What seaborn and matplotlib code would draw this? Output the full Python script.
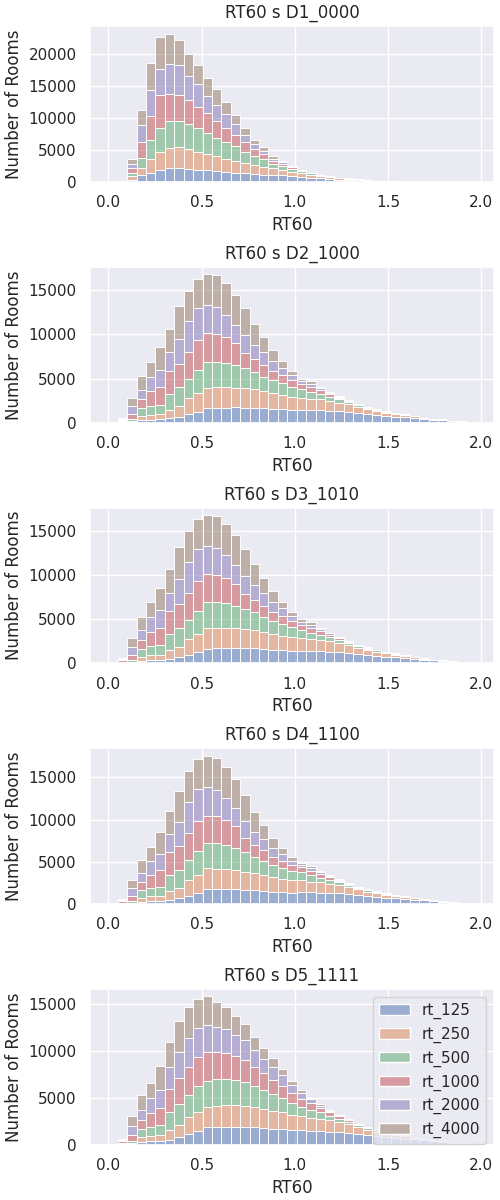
import numpy as np
import pandas as pd
import seaborn as sns
import matplotlib

matplotlib.use("Agg")
import matplotlib.pyplot as plt

sns.set_theme()

# DATA (counts per RT60 bin)

n_bins = 39
rt_range = (0, 1.97)
bin_edges = np.linspace(rt_range[0], rt_range[1], n_bins + 1)
bin_centers = (bin_edges[:-1] + bin_edges[1:]) / 2

bands = ["rt_125", "rt_250", "rt_500", "rt_1000", "rt_2000", "rt_4000"]
titles = ["RT60 s D1_0000", "RT60 s D2_1000", "RT60 s D3_1010", "RT60 s D4_1100", "RT60 s D5_1111"]

# D1_0000
d1_125 = [0, 0, 400, 1040, 1400, 1920, 2230, 2230, 2080, 1970, 1870, 1710, 1610, 1450, 1350, 1300, 1190, 1090, 1040, 950,
          800, 700, 600, 480, 400, 340, 260, 200, 150, 115, 85, 62, 45, 33, 24, 18, 11, 7, 4]
d1_250 = [0, 0, 500, 1140, 2230, 2850, 3120, 3220, 3010, 2750, 2540, 2340, 2070, 1820, 1660, 1450, 1140, 1040, 830, 650,
          550, 420, 330, 270, 200, 175, 135, 100, 72, 55, 42, 30, 20, 14, 9, 6, 4, 3, 1]
d1_500 = [0, 0, 600, 1560, 3010, 3690, 4250, 4050, 3890, 3740, 3270, 2850, 2600, 2330, 1660, 1300, 1200, 720, 570, 450,
          330, 230, 160, 120, 85, 65, 45, 32, 24, 17, 11, 7, 5, 3, 2, 1, 0, 0, 0]
d1_1000 = [0, 0, 650, 2490, 3640, 5190, 4150, 4100, 3740, 3220, 3120, 2600, 2180, 1820, 1610, 1190, 780, 420, 410, 250,
           150, 90, 60, 40, 25, 15, 8, 6, 4, 3, 2, 1, 0, 0, 0, 0, 0, 0, 0]
d1_2000 = [0, 0, 700, 2700, 4100, 4000, 4680, 4600, 3790, 3630, 2590, 2590, 2230, 1710, 1140, 730, 620, 410, 260, 150,
           70, 40, 25, 15, 7, 4, 2, 2, 0, 0, 0, 0, 0, 0, 0, 0, 0, 0, 0]
d1_4000 = [0, 0, 750, 2330, 4200, 5030, 4670, 4010, 3370, 2880, 2880, 2340, 1820, 1300, 1040, 670, 520, 350, 170, 90,
           40, 20, 15, 5, 3, 1, 0, 0, 0, 0, 0, 0, 0, 0, 0, 0, 0, 0, 0]

# D2_1000
d2_125 = [0, 30, 75, 300, 340, 400, 500, 700, 950, 1250, 1630, 1710, 1710, 1740, 1710, 1710, 1630, 1550, 1520, 1440,
          1450, 1420, 1400, 1350, 1300, 1240, 1100, 960, 860, 780, 700, 650, 560, 450, 350, 300, 185, 120, 90]
d2_250 = [0, 60, 110, 490, 570, 610, 1000, 1200, 1820, 2090, 2350, 2350, 2350, 2240, 2190, 2080, 1970, 1790, 1630, 1520,
          1400, 1330, 1250, 1150, 1000, 860, 700, 560, 490, 370, 280, 230, 160, 110, 75, 60, 35, 22, 15]
d2_500 = [0, 100, 230, 910, 1000, 1020, 1800, 2100, 2190, 2650, 2960, 2880, 2760, 2580, 2280, 2010, 1630, 1510, 1320, 1130,
          950, 750, 600, 450, 350, 250, 180, 160, 130, 120, 90, 60, 45, 25, 17, 15, 8, 6, 4]
d2_1000 = [0, 150, 570, 950, 1650, 1970, 2600, 2700, 3040, 3410, 3220, 3100, 2840, 2460, 1700, 1440, 1330, 1020, 950, 760,
           600, 550, 450, 300, 200, 130, 80, 70, 60, 50, 40, 25, 15, 10, 6, 4, 2, 2, 1]
d2_2000 = [0, 120, 910, 1100, 1650, 2010, 2100, 2800, 3480, 3600, 3140, 3040, 2580, 2080, 2010, 1590, 1440, 1140, 830, 570,
           350, 350, 200, 150, 100, 50, 30, 30, 30, 20, 15, 10, 8, 3, 2, 1, 0, 0, 0]
d2_4000 = [0, 110, 950, 1560, 1690, 2540, 2650, 3690, 3490, 3330, 3490, 3600, 3530, 3420, 3110, 2390, 1660, 1250, 760, 450,
           250, 290, 160, 100, 60, 30, 20, 20, 10, 10, 5, 5, 2, 2, 0, 0, 0, 0, 0]

# D3_1010
d3_125 = [0, 30, 80, 300, 350, 400, 520, 700, 960, 1250, 1620, 1720, 1710, 1740, 1700, 1700, 1640, 1550, 1510, 1440,
          1440, 1420, 1390, 1350, 1300, 1230, 1100, 970, 860, 780, 700, 640, 560, 450, 350, 300, 190, 120, 90]
d3_250 = [0, 60, 110, 480, 580, 610, 1000, 1210, 1810, 2090, 2360, 2340, 2350, 2240, 2180, 2080, 1960, 1790, 1640, 1520,
          1400, 1320, 1250, 1150, 1000, 860, 700, 560, 490, 370, 280, 230, 160, 110, 75, 60, 35, 22, 15]
d3_500 = [0, 100, 240, 900, 1000, 1030, 1790, 2100, 2200, 2650, 2950, 2890, 2760, 2570, 2280, 2000, 1640, 1500, 1320, 1130,
          950, 750, 600, 450, 350, 250, 180, 160, 130, 120, 90, 60, 45, 25, 17, 15, 8, 6, 4]
d3_1000 = [0, 150, 560, 960, 1640, 1980, 2600, 2710, 3030, 3400, 3230, 3100, 2830, 2470, 1700, 1450, 1320, 1020, 950, 760,
           600, 550, 450, 300, 200, 130, 80, 70, 60, 50, 40, 25, 15, 10, 6, 4, 2, 2, 1]
d3_2000 = [0, 120, 900, 1110, 1640, 2000, 2110, 2800, 3470, 3610, 3150, 3030, 2580, 2090, 2000, 1600, 1430, 1140, 830, 570,
           350, 350, 200, 150, 100, 50, 30, 30, 30, 20, 15, 10, 8, 3, 2, 1, 0, 0, 0]
d3_4000 = [0, 110, 960, 1550, 1700, 2530, 2660, 3680, 3500, 3320, 3480, 3610, 3520, 3410, 3120, 2380, 1670, 1250, 760, 450,
           250, 290, 160, 100, 60, 30, 20, 20, 10, 10, 5, 5, 2, 2, 0, 0, 0, 0, 0]

# D4_1100
d4_125 = [0, 30, 75, 290, 370, 380, 520, 720, 1000, 1310, 1740, 1770, 1750, 1780, 1690, 1660, 1580, 1470, 1440, 1370,
          1430, 1380, 1360, 1310, 1260, 1200, 1070, 930, 830, 760, 680, 630, 540, 440, 340, 290, 180, 115, 85]
d4_250 = [0, 55, 110, 480, 550, 610, 1040, 1220, 1910, 2190, 2570, 2430, 2410, 2280, 2170, 2020, 1910, 1700, 1550, 1440,
          1390, 1290, 1210, 1120, 970, 830, 680, 540, 475, 360, 270, 225, 155, 105, 73, 58, 34, 21, 14]
d4_500 = [0, 95, 230, 890, 970, 1020, 1870, 2140, 2300, 2780, 2960, 2980, 2830, 2630, 2260, 1950, 1580, 1430, 1250, 1070,
          940, 730, 580, 440, 340, 240, 175, 155, 125, 115, 85, 58, 44, 24, 16, 14, 8, 6, 4]
d4_1000 = [0, 145, 570, 930, 1600, 1970, 2700, 2750, 3190, 3580, 3160, 3210, 2910, 2510, 1680, 1400, 1290, 970, 900, 720,
           580, 545, 435, 290, 195, 125, 78, 68, 58, 48, 38, 24, 15, 10, 6, 4, 2, 2, 1]
d4_2000 = [0, 115, 910, 1080, 1600, 2010, 2180, 2860, 3650, 3780, 3480, 3150, 2640, 2120, 1990, 1540, 1400, 1080, 790, 540,
           345, 340, 195, 145, 97, 48, 29, 29, 29, 19, 14, 10, 8, 3, 2, 1, 0, 0, 0]
d4_4000 = [0, 110, 955, 1550, 1670, 2550, 2720, 3710, 3730, 3520, 3640, 3730, 3630, 3460, 3100, 2340, 1570, 1220, 750, 430,
           215, 280, 155, 95, 58, 29, 19, 19, 10, 10, 5, 5, 2, 2, 0, 0, 0, 0, 0]

# D5_1111
d5_125 = [0, 35, 80, 300, 380, 400, 560, 800, 1100, 1450, 1850, 1870, 1880, 1900, 1880, 1860, 1800, 1720, 1680, 1600,
          1560, 1500, 1450, 1390, 1330, 1270, 1130, 990, 890, 800, 720, 660, 570, 470, 365, 305, 190, 125, 90]
d5_250 = [0, 65, 120, 480, 540, 600, 1050, 1300, 1800, 2050, 2170, 2300, 2320, 2280, 2250, 2150, 2050, 1900, 1750, 1600,
          1450, 1380, 1300, 1200, 1050, 900, 740, 590, 510, 390, 300, 240, 170, 115, 80, 62, 36, 23, 15]
d5_500 = [0, 100, 250, 900, 950, 1050, 1850, 2200, 2400, 2700, 2800, 2780, 2750, 2650, 2500, 2250, 1950, 1750, 1500, 1250,
          1050, 850, 680, 520, 400, 290, 200, 180, 150, 130, 100, 65, 50, 28, 20, 16, 9, 7, 4]
d5_1000 = [0, 160, 600, 950, 1550, 1900, 2500, 2800, 3000, 3100, 3050, 2900, 2800, 2600, 2400, 2050, 1800, 1550, 1350, 1100,
           850, 700, 500, 350, 230, 150, 95, 80, 65, 50, 40, 25, 15, 10, 6, 4, 2, 2, 1]
d5_2000 = [0, 125, 950, 1100, 1550, 1900, 2300, 2700, 3000, 3100, 2900, 2700, 2500, 2250, 2050, 1750, 1550, 1350, 1100, 800,
           550, 380, 230, 160, 100, 55, 35, 30, 25, 20, 15, 10, 8, 3, 2, 1, 0, 0, 0]
d5_4000 = [0, 115, 1080, 1520, 1570, 2480, 2660, 3320, 3290, 3070, 2980, 2600, 2340, 1970, 1760, 1380, 1170, 900, 670, 470,
           310, 190, 140, 80, 40, 35, 20, 15, 10, 8, 5, 3, 2, 1, 0, 0, 0, 0, 0]

datasets = [
    [d1_125, d1_250, d1_500, d1_1000, d1_2000, d1_4000],
    [d2_125, d2_250, d2_500, d2_1000, d2_2000, d2_4000],
    [d3_125, d3_250, d3_500, d3_1000, d3_2000, d3_4000],
    [d4_125, d4_250, d4_500, d4_1000, d4_2000, d4_4000],
    [d5_125, d5_250, d5_500, d5_1000, d5_2000, d5_4000],
]

# VISUALIZATION

# rt_125 gets the first colour and sits at the bottom of the stack
palette = dict(zip(bands, sns.color_palette("deep", len(bands))))

fig, axes = plt.subplots(5, 1, figsize=(5, 12), dpi=100)
fig.subplots_adjust(left=0.18, right=0.988, top=0.978, bottom=0.046, hspace=0.545)

for i, (ax, title, counts) in enumerate(zip(axes, titles, datasets)):
    frames = []
    for band, c in zip(bands, counts):
        frames.append(pd.DataFrame({"RT60": bin_centers, "count": c, "band": band}))
    df = pd.concat(frames, ignore_index=True)
    sns.histplot(
        data=df, x="RT60", weights="count", hue="band", hue_order=bands[::-1],
        palette=palette, multiple="stack", bins=n_bins, binrange=rt_range,
        alpha=0.5, ax=ax, legend=(i == 4),
    )
    ax.set_title(title)
    ax.set_xlabel("RT60")
    ax.set_ylabel("Number of Rooms")

# legend back in rt_125 ... rt_4000 order
leg = axes[4].get_legend()
handles = list(leg.legend_handles)[::-1]
labels = [t.get_text() for t in leg.get_texts()][::-1]
leg.remove()
axes[4].legend(handles, labels, loc="upper right")

plt.savefig("out.png")
